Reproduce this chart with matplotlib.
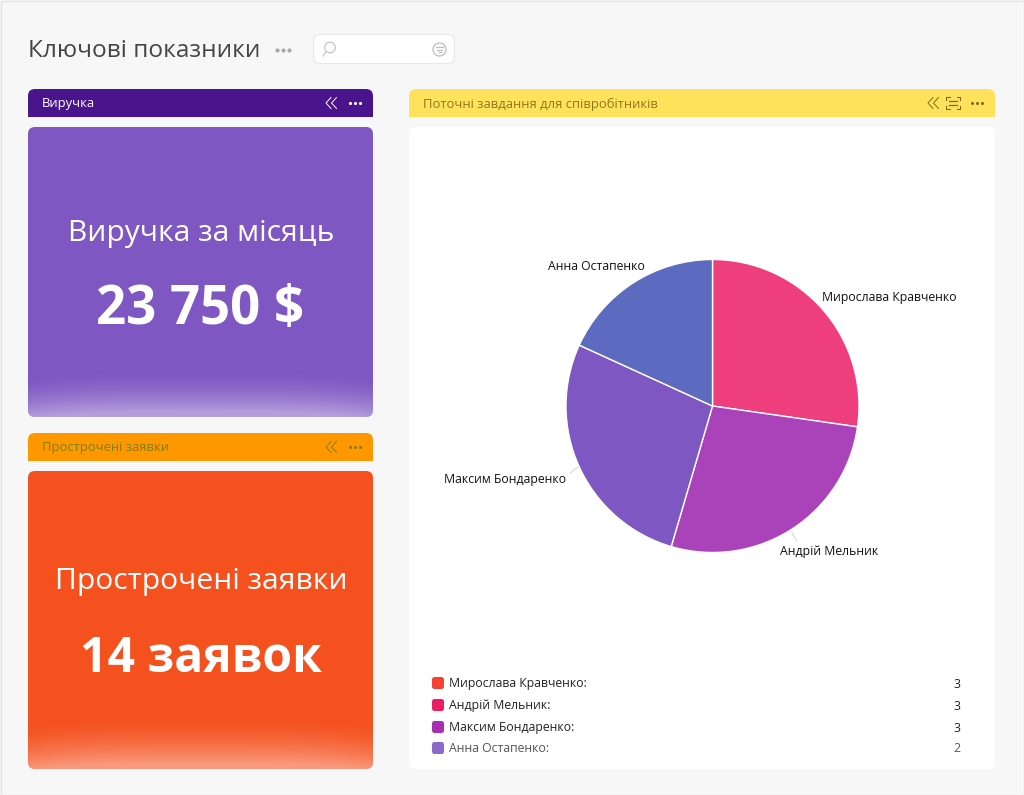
import numpy as np
import matplotlib
matplotlib.use("Agg")
import matplotlib.pyplot as plt
from matplotlib.patches import FancyBboxPatch, Rectangle, Circle
from matplotlib.colors import LinearSegmentedColormap

plt.rcParams['font.family'] = ['Open Sans', 'Noto Sans', 'DejaVu Sans']

# ---- data ----
employees = ["Мирослава Кравченко", "Андрій Мельник", "Максим Бондаренко", "Анна Остапенко"]
tasks = [3, 3, 3, 2]
slice_colors = ["#EE3F7C", "#AA43BA", "#7E57C2", "#5C6BC0"]
legend_colors = ["#F44336", "#E91E63", "#A62FB3", "#8C69C9"]
legend_text_colors = ["#222222", "#222222", "#222222", "#555555"]
label_x = [822, 878, 566, 645]
label_y = [297, 551, 479, 266]
label_ha = ["left", "right", "right", "right"]

page_title = "Ключові показники"
revenue_header = "Виручка"
revenue_title = "Виручка за місяць"
revenue_value = "23 750 $"
overdue_header = "Прострочені заявки"
overdue_title = "Прострочені заявки"
overdue_value = "14 заявок"
tasks_header = "Поточні завдання для співробітників"

W, H = 1024, 795
fig = plt.figure(figsize=(W / 100, H / 100), dpi=100, facecolor="#F7F7F7")
ui = fig.add_axes([0, 0, 1, 1])
ui.set_xlim(0, W)
ui.set_ylim(H, 0)
ui.axis("off")


def rounded(x0, y0, x1, y1, r, color, ec="none", lw=0, z=1):
    p = FancyBboxPatch((x0 + r, y0 + r), x1 - x0 - 2 * r, y1 - y0 - 2 * r,
                       boxstyle=f"round,pad={r},rounding_size={r}",
                       fc=color, ec=ec, lw=lw, zorder=z)
    ui.add_patch(p)
    return p


def header(x0, y0, x1, y1, color, text, tcolor, icon_color, scan=False):
    rounded(x0, y0, x1, y1, 7, color, z=2)
    ui.add_patch(Rectangle((x0, y1 - 10), x1 - x0, 10, fc=color, ec="none", zorder=2))
    ui.text(x0 + 14, (y0 + y1) / 2 + 1, text, color=tcolor, fontsize=9.4,
            va="center", ha="left", zorder=3)
    cy = (y0 + y1) / 2
    dots_x = x1 - 18
    ui.scatter([dots_x - 5, dots_x, dots_x + 5], [cy] * 3, s=5, color=icon_color, lw=0, zorder=3)
    cx = dots_x - (44 if scan else 24)
    for off in (0, 5.5):
        ui.plot([cx + off, cx - 5 + off, cx + off], [cy - 5.5, cy, cy + 5.5],
                color=icon_color, lw=0.7, zorder=3)
    if scan:
        sx = x1 - 42
        for dx in (-1, 1):
            for dy in (-1, 1):
                ui.plot([sx + dx * 7, sx + dx * 7, sx + dx * 3.5],
                        [cy + dy * 3, cy + dy * 6, cy + dy * 6],
                        color=icon_color, lw=0.8, zorder=3)
        for dy in (-1.8, 1.8):
            ui.plot([sx - 4, sx + 4], [cy + dy, cy + dy], color=icon_color, lw=0.9, zorder=3)


def kpi_card(x0, y0, x1, y1, color, title, value, ty, vy, vsize, glow_top):
    patch = rounded(x0, y0, x1, y1, 7, color, z=2)
    cmap = LinearSegmentedColormap.from_list("g", [(1, 1, 1, 0), (1, 1, 1, 0.42)])
    v, u = np.meshgrid(np.linspace(0, 1, 100), np.linspace(-1, 1, 200), indexing="ij")
    grad = np.clip(v * 1.1 - 0.14 * u ** 4, 0, 1) ** 1.7
    im = ui.imshow(grad, extent=(x0, x1, y1, glow_top), origin="upper", aspect="auto",
                   cmap=cmap, zorder=3, interpolation="bilinear", vmin=0, vmax=1)
    im.set_clip_path(patch)
    ui.text((x0 + x1) / 2 + 0.5, ty, title, color="white", fontsize=21.6, ha="center", va="center", zorder=4)
    ui.text((x0 + x1) / 2, vy, value, color="white", fontsize=vsize, fontweight="bold",
            ha="center", va="center", zorder=4)


# page frame
ui.plot([0.5, 0.5, W], [H, 0.5, 0.5], color="#E3E3E3", lw=1, zorder=1)
ui.plot([0, W - 0.5, W - 0.5], [H - 0.5, H - 0.5, 0], color="#E3E3E3", lw=1, zorder=1)

# title bar
ui.text(28, 51, page_title, color="#454545", fontsize=17.6, va="center", ha="left")
ui.scatter([277, 283, 289], [50] * 3, s=9, color="#A8A8A8", lw=0)
rounded(313.5, 34.5, 454.5, 63.5, 7, "white", ec="#E8E8E8", lw=0.8)
ui.add_patch(Circle((330, 47.5), 5.3, fc="none", ec="#C4C4C4", lw=0.9, zorder=3))
ui.plot([326, 323], [52, 56], color="#C4C4C4", lw=0.9, zorder=3)
ui.add_patch(Circle((439.5, 49.5), 6.5, fc="none", ec="#BDBDBD", lw=0.9, zorder=3))
for half, yy in zip((3.5, 2.3, 1.0), (47.2, 49.5, 51.8)):
    ui.plot([439.5 - half, 439.5 + half], [yy, yy], color="#BDBDBD", lw=0.9, zorder=3)

# left column
header(28, 89, 373, 117, "#4A148C", revenue_header, "#FFFFFF", "#FFFFFF")
kpi_card(28, 127, 373, 417, "#7E57C2", revenue_title, revenue_value, 233, 310, 38, 368)
header(28, 433, 373, 461, "#FF9800", overdue_header, "#7F7F10", "#7F7F10")
kpi_card(28, 471, 373, 769, "#F4511E", overdue_title, overdue_value, 581, 660, 34.7, 714)

# right column
header(409, 89, 995, 117, "#FFE25B", tasks_header, "#8A7A20", "#7D6E1C", scan=True)
rounded(409, 127, 995, 769, 7, "white")

# pie
cx, cy, R = 712.5, 406, 146.5
pie_ax = fig.add_axes([(cx - R) / W, 1 - (cy + R) / H, 2 * R / W, 2 * R / H])
pie_ax.pie(tasks, colors=slice_colors, startangle=90, counterclock=False, radius=1,
           wedgeprops=dict(edgecolor="white", linewidth=1, clip_on=False))
pie_ax.set_xlim(-1, 1)
pie_ax.set_ylim(-1, 1)
pie_ax.patch.set_visible(False)

# pie labels
for name, x, y, ha in zip(employees, label_x, label_y, label_ha):
    ui.text(x, y, name, color="#111111", fontsize=8.8, ha=ha, va="center", zorder=5)
ui.plot([570, 578], [473, 467], color="#D8D8D8", lw=0.8, zorder=5)
ui.plot([792, 797], [533, 541], color="#D8D8D8", lw=0.8, zorder=5)

# legend
legend_y = [683, 705, 727, 748]
for name, val, col, tc, y in zip(employees, tasks, legend_colors, legend_text_colors, legend_y):
    rounded(432, y - 6, 444, y + 6, 2.5, col, z=3)
    ui.text(449, y + 1, name + ":", color=tc, fontsize=8.8, va="center", ha="left", zorder=3)
    ui.text(960, y + 1, str(val), color=tc, fontsize=8.8, va="center", ha="right", zorder=3)

ui.set_xlim(0, W)
ui.set_ylim(H, 0)
fig.savefig("out.png", dpi=100, facecolor=fig.get_facecolor())
